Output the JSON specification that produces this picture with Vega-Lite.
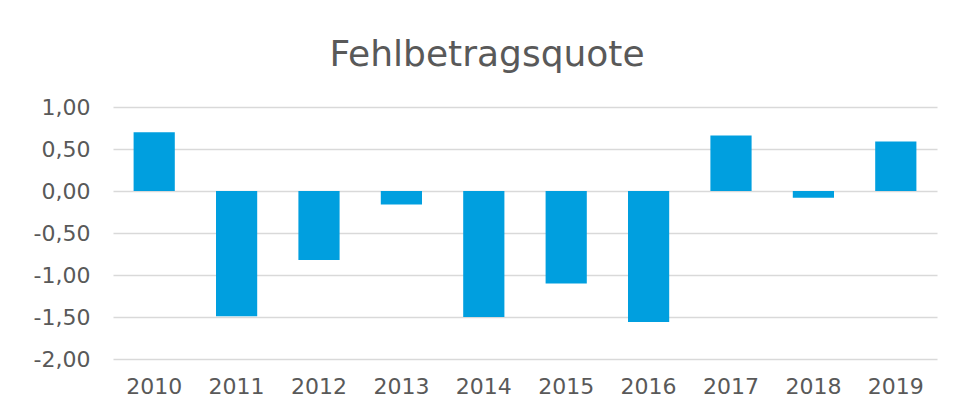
{
  "$schema": "https://vega.github.io/schema/vega-lite/v6.json",
  "autosize": {"type": "none"},
  "width": 824,
  "height": 252,
  "padding": {"left": 113, "top": 107, "right": 18, "bottom": 60},
  "background": "white",
  "title": {
    "text": "Fehlbetragsquote",
    "font": "DejaVu Sans",
    "fontSize": 36,
    "fontWeight": "normal",
    "color": "#595959",
    "anchor": "middle",
    "offset": 22,
    "dx": -38
  },
  "data": {
    "values": [
      {"Jahr": "2010", "Quote": 0.70},
      {"Jahr": "2011", "Quote": -1.49},
      {"Jahr": "2012", "Quote": -0.82},
      {"Jahr": "2013", "Quote": -0.16},
      {"Jahr": "2014", "Quote": -1.50},
      {"Jahr": "2015", "Quote": -1.10},
      {"Jahr": "2016", "Quote": -1.56},
      {"Jahr": "2017", "Quote": 0.66},
      {"Jahr": "2018", "Quote": -0.08},
      {"Jahr": "2019", "Quote": 0.59}
    ]
  },
  "mark": {"type": "bar", "color": "#009fdf"},
  "encoding": {
    "x": {
      "field": "Jahr",
      "type": "nominal",
      "scale": {"paddingInner": 0.5, "paddingOuter": 0.25},
      "axis": {
        "title": null,
        "labelAngle": 0,
        "domain": false,
        "ticks": false,
        "labelFont": "DejaVu Sans",
        "labelFontSize": 22,
        "labelColor": "#595959",
        "labelPadding": 17
      }
    },
    "y": {
      "field": "Quote",
      "type": "quantitative",
      "scale": {"domain": [-2, 1], "nice": false, "zero": true},
      "axis": {
        "title": null,
        "values": [-2, -1.5, -1, -0.5, 0, 0.5, 1],
        "labelExpr": "(datum.value < 0 ? '-' : '') + replace(format(abs(datum.value), '.2f'), '.', ',')",
        "domain": false,
        "ticks": false,
        "grid": true,
        "gridColor": "#d9d9d9",
        "gridWidth": 1.5,
        "labelFont": "DejaVu Sans",
        "labelFontSize": 22,
        "labelColor": "#595959",
        "labelPadding": 23
      }
    }
  },
  "config": {"view": {"stroke": null}}
}
